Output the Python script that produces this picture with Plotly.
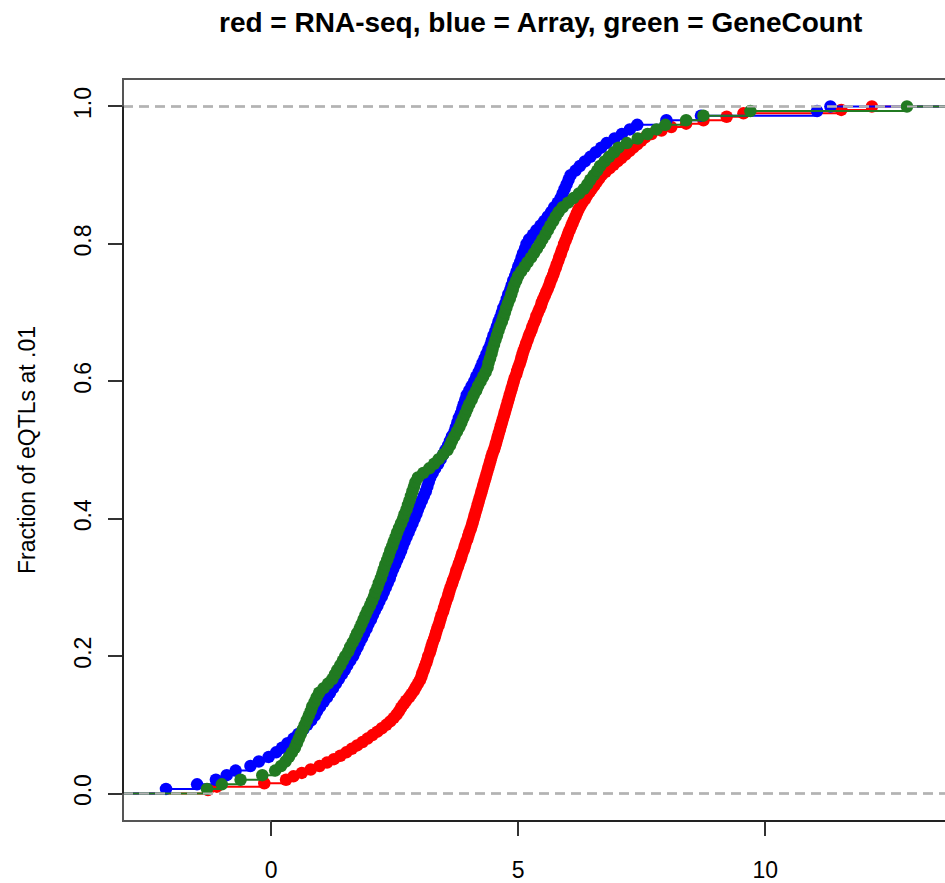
import plotly.graph_objects as go

# ---- data (sorted sample values per method) ----
rna_seq = [
    -1.28, -1.10, -0.14, 0.30, 0.45, 0.62, 0.80, 0.98, 1.13, 1.27,
    1.40, 1.52, 1.63, 1.74, 1.85, 1.95, 2.05, 2.15, 2.24, 2.33,
    2.41, 2.48, 2.54, 2.59, 2.63, 2.68, 2.73, 2.79, 2.84, 2.89,
    2.93, 2.97, 3.01, 3.04, 3.06, 3.09, 3.11, 3.14, 3.16, 3.18,
    3.21, 3.23, 3.25, 3.27, 3.30, 3.32, 3.34, 3.36, 3.39, 3.41,
    3.43, 3.45, 3.48, 3.50, 3.52, 3.54, 3.57, 3.59, 3.61, 3.63,
    3.66, 3.68, 3.71, 3.73, 3.75, 3.78, 3.80, 3.83, 3.85, 3.87,
    3.90, 3.92, 3.94, 3.97, 3.99, 4.01, 4.04, 4.06, 4.08, 4.10,
    4.12, 4.14, 4.16, 4.18, 4.20, 4.22, 4.24, 4.26, 4.28, 4.30,
    4.32, 4.34, 4.36, 4.38, 4.40, 4.42, 4.44, 4.46, 4.48, 4.51,
    4.53, 4.55, 4.57, 4.59, 4.61, 4.63, 4.65, 4.67, 4.69, 4.71,
    4.73, 4.75, 4.77, 4.79, 4.81, 4.83, 4.85, 4.87, 4.89, 4.91,
    4.93, 4.96, 4.98, 5.00, 5.03, 5.05, 5.07, 5.09, 5.11, 5.14,
    5.16, 5.19, 5.21, 5.24, 5.27, 5.29, 5.32, 5.35, 5.37, 5.40,
    5.43, 5.46, 5.48, 5.51, 5.54, 5.57, 5.60, 5.63, 5.65, 5.68,
    5.71, 5.73, 5.76, 5.78, 5.81, 5.83, 5.86, 5.88, 5.91, 5.93,
    5.96, 5.99, 6.01, 6.04, 6.07, 6.10, 6.13, 6.16, 6.19, 6.22,
    6.26, 6.30, 6.35, 6.39, 6.44, 6.49, 6.54, 6.59, 6.64, 6.69,
    6.77, 6.85, 6.93, 7.01, 7.09, 7.17, 7.25, 7.33, 7.41, 7.49,
    7.57, 7.70, 7.90, 8.10, 8.40, 8.75, 9.22, 9.56, 11.54, 12.16,
]

array = [
    -2.13, -1.50, -1.12, -0.90, -0.72, -0.42, -0.25, -0.05, 0.10, 0.22,
    0.33, 0.45, 0.55, 0.65, 0.73, 0.81, 0.88, 0.93, 0.99, 1.06,
    1.13, 1.19, 1.25, 1.31, 1.37, 1.43, 1.49, 1.54, 1.60, 1.66,
    1.70, 1.75, 1.79, 1.84, 1.88, 1.93, 1.97, 2.02, 2.06, 2.10,
    2.15, 2.19, 2.24, 2.28, 2.32, 2.36, 2.40, 2.43, 2.47, 2.51,
    2.55, 2.59, 2.63, 2.66, 2.70, 2.74, 2.78, 2.82, 2.86, 2.90,
    2.94, 2.97, 3.01, 3.05, 3.09, 3.13, 3.16, 3.19, 3.22, 3.27,
    3.32, 3.38, 3.43, 3.48, 3.53, 3.58, 3.62, 3.66, 3.71, 3.74,
    3.77, 3.80, 3.84, 3.87, 3.90, 3.93, 3.96, 4.01, 4.06, 4.11,
    4.15, 4.20, 4.24, 4.28, 4.32, 4.36, 4.40, 4.44, 4.47, 4.50,
    4.54, 4.57, 4.60, 4.64, 4.67, 4.70, 4.74, 4.77, 4.80, 4.84,
    4.87, 4.90, 4.94, 4.97, 5.00, 5.04, 5.07, 5.10, 5.14, 5.17,
    5.22, 5.30, 5.37, 5.45, 5.53, 5.60, 5.67, 5.73, 5.80, 5.86,
    5.90, 5.94, 5.98, 6.02, 6.06, 6.16, 6.25, 6.35, 6.46, 6.57,
    6.68, 6.79, 6.95, 7.10, 7.26, 7.41, 8.00, 8.70, 11.05, 11.32,
]

gene_count = [
    -1.30, -1.00, -0.62, -0.18, 0.08, 0.20, 0.29, 0.36, 0.42, 0.48,
    0.52, 0.56, 0.60, 0.64, 0.68, 0.72, 0.76, 0.80, 0.83, 0.88,
    0.92, 0.97, 1.06, 1.15, 1.24, 1.29, 1.34, 1.40, 1.45, 1.50,
    1.56, 1.60, 1.65, 1.70, 1.74, 1.79, 1.83, 1.87, 1.91, 1.95,
    2.00, 2.04, 2.08, 2.11, 2.15, 2.18, 2.22, 2.25, 2.28, 2.31,
    2.35, 2.38, 2.41, 2.45, 2.48, 2.52, 2.55, 2.59, 2.63, 2.67,
    2.70, 2.74, 2.77, 2.80, 2.83, 2.86, 2.89, 2.92, 2.97, 3.08,
    3.20, 3.30, 3.39, 3.48, 3.57, 3.62, 3.66, 3.71, 3.76, 3.81,
    3.85, 3.89, 3.93, 3.97, 4.01, 4.06, 4.10, 4.15, 4.19, 4.24,
    4.29, 4.34, 4.38, 4.40, 4.43, 4.46, 4.48, 4.51, 4.54, 4.57,
    4.60, 4.63, 4.67, 4.70, 4.73, 4.76, 4.79, 4.83, 4.86, 4.89,
    4.92, 4.96, 5.00, 5.06, 5.13, 5.19, 5.26, 5.32, 5.38, 5.44,
    5.49, 5.55, 5.60, 5.65, 5.71, 5.76, 5.82, 5.90, 6.01, 6.12,
    6.23, 6.33, 6.40, 6.46, 6.53, 6.60, 6.66, 6.75, 6.84, 6.94,
    7.03, 7.20, 7.42, 7.62, 7.80, 7.98, 8.40, 8.75, 9.70, 12.87,
]

x_ticks = [0, 5, 10]
y_ticks = [0.0, 0.2, 0.4, 0.6, 0.8, 1.0]
y_tick_text = ["0.0", "0.2", "0.4", "0.6", "0.8", "1.0"]

X_RANGE = [-3.0, 13.64]
Y_RANGE = [-0.04, 1.04]

FONT = "Liberation Sans, Arial, Helvetica, sans-serif"
SERIES = [
    (rna_seq, "#FF0000"),
    (array, "#0000FF"),
    (gene_count, "#217A21"),
]


def ecdf(values):
    xs = sorted(values)
    n = len(xs)
    ys = [(i + 1) / n for i in range(n)]
    return xs, ys


fig = go.Figure()
for values, color in SERIES:
    xs, ys = ecdf(values)
    # step line, extended to the plot edges like R's plot.ecdf
    fig.add_trace(go.Scatter(
        x=[X_RANGE[0]] + xs + [X_RANGE[1]],
        y=[0] + ys + [1],
        mode="lines", line=dict(color=color, width=2, shape="hv"),
        hoverinfo="skip", showlegend=False,
    ))
    fig.add_trace(go.Scatter(
        x=xs, y=ys, mode="markers",
        marker=dict(color=color, size=12.5, line=dict(width=0)),
        showlegend=False,
    ))
    # dashed 0 / 1 reference lines drawn after each ecdf
    fig.add_trace(go.Scatter(
        x=[X_RANGE[0], X_RANGE[1], None, X_RANGE[0], X_RANGE[1]],
        y=[0, 0, None, 1, 1],
        mode="lines", line=dict(color="#B3B3B3", width=2, dash="10px,6px"),
        hoverinfo="skip", showlegend=False,
    ))

fig.update_layout(
    width=945, height=883,
    margin=dict(l=123, r=0, t=79, b=59),
    plot_bgcolor="white", paper_bgcolor="white",
    showlegend=False,
    font=dict(family=FONT, size=23, color="black"),
    xaxis=dict(
        range=X_RANGE, tickvals=x_ticks, ticks="outside", ticklen=14,
        tickwidth=2, tickcolor="#333", showgrid=False, zeroline=False,
        showline=False, ticklabelstandoff=14,
        tickfont=dict(family=FONT, size=23, color="black"),
    ),
    yaxis=dict(
        range=Y_RANGE, tickvals=y_ticks, ticktext=y_tick_text,
        tickangle=-90, ticks="outside", ticklen=14, tickwidth=2,
        tickcolor="#333", showgrid=False, zeroline=False, showline=False,
        ticklabelstandoff=8,
        tickfont=dict(family=FONT, size=23, color="black"),
    ),
    shapes=[
        dict(type="rect", xref="paper", yref="paper", x0=0, x1=1.05, y0=0, y1=1,
             line=dict(color="#555", width=2), fillcolor="rgba(0,0,0,0)", layer="above"),
        dict(type="line", xref="x", yref="paper", x0=x_ticks[0], x1=15, y0=0, y1=0,
             line=dict(color="#222", width=2), layer="above"),
        dict(type="line", xref="paper", yref="y", x0=0, x1=0, y0=y_ticks[0], y1=y_ticks[-1],
             line=dict(color="#222", width=2), layer="above"),
    ],
    annotations=[
        dict(text="<b>red = RNA-seq, blue = Array, green = GeneCount</b>",
             xref="paper", yref="paper", x=0.5073, y=1.0756,
             xanchor="center", yanchor="middle", showarrow=False,
             font=dict(family=FONT, size=28, color="black")),
        dict(text="Fraction of eQTLs at .01", textangle=-90,
             xref="paper", yref="paper", x=-0.1168, y=0.5,
             xanchor="center", yanchor="middle", showarrow=False,
             font=dict(family=FONT, size=23, color="black")),
    ],
)

fig.write_html("out.html")
